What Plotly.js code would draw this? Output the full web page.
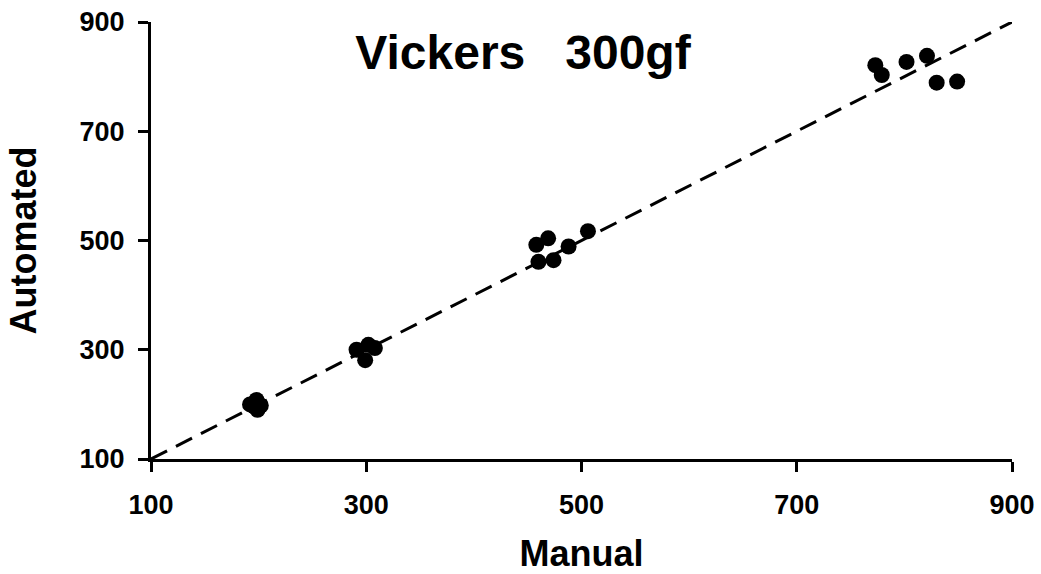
<!DOCTYPE html>
<html>
<head>
<meta charset="utf-8">
<script src="https://cdn.plot.ly/plotly-3.0.1.min.js"></script>
<style>html,body{margin:0;padding:0;background:#fff;}#chart{width:1041px;height:574px;}</style>
</head>
<body>
<div id="chart"></div>
<script>
// Data
const manual = [192, 198, 202, 199, 196, 291, 302, 299, 308, 458, 469, 460, 474, 488, 506, 773, 779, 802, 821, 830, 849];
const automated = [200, 208, 198, 190, 196, 300, 309, 281, 303, 492, 504, 461, 464, 489, 517, 821, 803, 827, 838, 789, 791];
const lineX = [100, 900];
const lineY = [100, 900];
const tickVals = [100, 300, 500, 700, 900];
const tickText = ['100', '300', '500', '700', '900'];

const FONT = 'Liberation Sans, Arial, sans-serif';

const traces = [
  {
    x: lineX, y: lineY, mode: 'lines', type: 'scatter',
    line: {color: '#000', width: 3, dash: '18px,10px'},
    hoverinfo: 'skip', showlegend: false
  },
  {
    x: manual, y: automated, mode: 'markers', type: 'scatter',
    marker: {color: '#000', size: 16, line: {width: 0}},
    showlegend: false
  }
];

const axisCommon = {
  range: [100, 900],
  tickvals: tickVals, ticktext: tickText,
  showgrid: false, zeroline: false,
  showline: true, linecolor: '#000', linewidth: 3,
  ticks: 'outside', ticklen: 10, tickwidth: 3, tickcolor: '#000',
  tickfont: {family: FONT, size: 27, color: '#000', weight: 'bold'}
};

const layout = {
  width: 1041, height: 574,
  paper_bgcolor: '#fff', plot_bgcolor: '#fff',
  margin: {l: 151, r: 29, t: 22, b: 115},
  showlegend: false,
  title: {
    text: 'Vickers\u00a0\u00a0 300gf',
    font: {family: FONT, size: 48, color: '#000', weight: 'bold'},
    x: 523 / 1041, xanchor: 'center', xref: 'container',
    y: 1 - 52 / 574, yanchor: 'middle', yref: 'container'
  },
  xaxis: Object.assign({}, axisCommon, {
    title: {text: 'Manual', font: {family: FONT, size: 36, color: '#000', weight: 'bold'}, standoff: 26},
    ticklabelstandoff: 10
  }),
  yaxis: Object.assign({}, axisCommon, {
    title: {text: 'Automated', font: {family: FONT, size: 36, color: '#000', weight: 'bold'}, standoff: 32},
    ticklabelstandoff: 8
  })
};

Plotly.newPlot('chart', traces, layout, {displayModeBar: false, staticPlot: true});
</script>
</body>
</html>
